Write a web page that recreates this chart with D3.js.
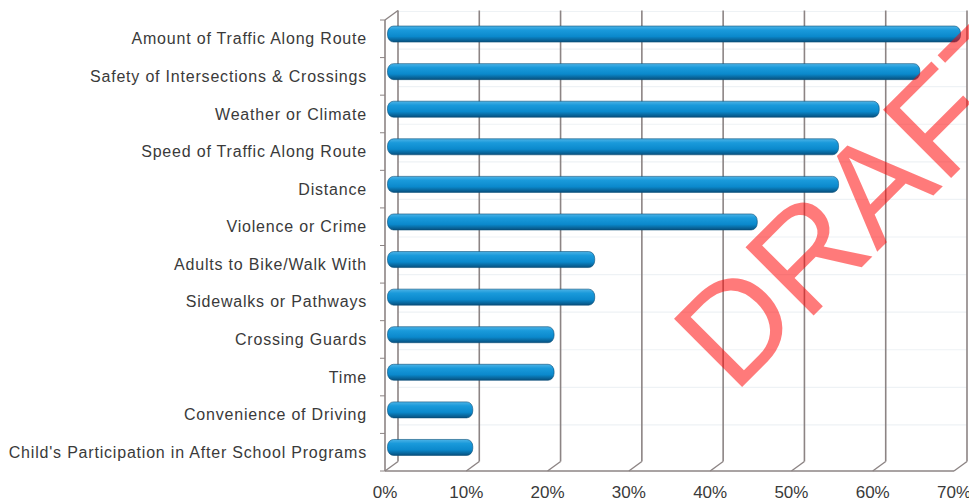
<!DOCTYPE html>
<html>
<head>
<meta charset="utf-8">
<script src="https://cdn.jsdelivr.net/npm/d3@7"></script>
<style>
  body { margin: 0; background: #fff; }
  text { font-family: "Liberation Sans", Arial, sans-serif; }
</style>
</head>
<body>
<svg id="chart" width="969" height="501"></svg>
<script>
// ---- data
const categories = [
  "Amount of Traffic Along Route",
  "Safety of Intersections & Crossings",
  "Weather or Climate",
  "Speed of Traffic Along Route",
  "Distance",
  "Violence or Crime",
  "Adults to Bike/Walk With",
  "Sidewalks or Pathways",
  "Crossing Guards",
  "Time",
  "Convenience of Driving",
  "Child's Participation in After School Programs"
];
const percents = [70, 65, 60, 55, 55, 45, 25, 25, 20, 20, 10, 10];
const tickValues = [0, 10, 20, 30, 40, 50, 60, 70];

const svg = d3.select("#chart");

// 3d depth offset of the back wall
const dx = 13, dy = -9.5;
const plotTop = 20, plotBottom = 471, plotLeft = 385, plotRight = 954;

const x = d3.scaleLinear().domain([0, 70]).range([plotLeft, plotRight]);
const y = d3.scaleBand().domain(categories).range([plotTop, plotBottom]);

const gridColor = "#8c8484";

// gradient for the cylinder bars
const defs = svg.append("defs");
const grad = defs.append("linearGradient")
  .attr("id", "barGrad").attr("x1", 0).attr("y1", 0).attr("x2", 0).attr("y2", 1);
grad.append("stop").attr("offset", "0%").attr("stop-color", "#4db3e6");
grad.append("stop").attr("offset", "25%").attr("stop-color", "#1a9adb");
grad.append("stop").attr("offset", "65%").attr("stop-color", "#0b89cc");
grad.append("stop").attr("offset", "100%").attr("stop-color", "#07507e");

//_________________ back wall faint lines
svg.append("g").selectAll("line")
  .data(categories)
  .join("line")
  .attr("x1", plotLeft + dx).attr("x2", plotRight + dx)
  .attr("y1", d => y(d) + dy + 1).attr("y2", d => y(d) + dy + 1)
  .attr("stroke", "#eef2f5").attr("stroke-width", 1.2);

//_________________ vertical grid (back wall + floor slants)
const grid = svg.append("g");
grid.selectAll(".vline")
  .data(tickValues)
  .join("line")
  .attr("x1", d => x(d) + dx).attr("x2", d => x(d) + dx)
  .attr("y1", plotTop + dy).attr("y2", plotBottom + dy)
  .attr("stroke", gridColor).attr("stroke-width", 1.6);
grid.selectAll(".slant")
  .data(tickValues)
  .join("line")
  .attr("x1", d => x(d)).attr("x2", d => x(d) + dx)
  .attr("y1", plotBottom).attr("y2", plotBottom + dy)
  .attr("stroke", gridColor).attr("stroke-width", 1.4);

// left wall front edge, top slant, floor front edge
grid.append("line")
  .attr("x1", plotLeft).attr("x2", plotLeft).attr("y1", plotTop).attr("y2", plotBottom)
  .attr("stroke", gridColor).attr("stroke-width", 1.6);
grid.append("line")
  .attr("x1", plotLeft).attr("x2", plotLeft + dx).attr("y1", plotTop).attr("y2", plotTop + dy)
  .attr("stroke", gridColor).attr("stroke-width", 1.4);
grid.append("line")
  .attr("x1", plotLeft).attr("x2", plotRight).attr("y1", plotBottom).attr("y2", plotBottom)
  .attr("stroke", gridColor).attr("stroke-width", 1.6);

// small ticks on the left axis
grid.selectAll(".ytick")
  .data(categories.concat([null]))
  .join("line")
  .attr("x1", plotLeft - 5).attr("x2", plotLeft)
  .attr("y1", (d, i) => plotTop + i * y.bandwidth())
  .attr("y2", (d, i) => plotTop + i * y.bandwidth())
  .attr("stroke", gridColor).attr("stroke-width", 1);

//_________________ bars
const barH = 16;
svg.append("g").selectAll("rect")
  .data(percents)
  .join("rect")
  .attr("x", x(0) + dx / 2 - 4)
  .attr("y", (d, i) => y(categories[i]) + y.bandwidth() / 2 + dy / 2 - barH / 2)
  .attr("width", d => x(d) - x(0) + 4)
  .attr("height", barH)
  .attr("rx", 6).attr("ry", 7)
  .attr("fill", "url(#barGrad)")
  .attr("stroke", "#0a4f78").attr("stroke-width", 0.6);

//_________________ labels
svg.append("g").selectAll("text")
  .data(categories)
  .join("text")
  .attr("x", 367)
  .attr("y", d => y(d) + y.bandwidth() / 2)
  .attr("dy", "0.35em")
  .attr("text-anchor", "end")
  .attr("font-size", 16)
  .attr("letter-spacing", 0.8)
  .attr("fill", "#3a3a3a")
  .text(d => d);

svg.append("g").selectAll("text")
  .data(tickValues)
  .join("text")
  .attr("x", d => x(d))
  .attr("y", 498)
  .attr("text-anchor", "middle")
  .attr("font-size", 17)
  .attr("fill", "#3a3a3a")
  .text(d => d + "%");

//_________________ watermark
svg.append("text")
  .attr("transform", "translate(734,395) rotate(-45)")
  .attr("font-size", 140)
  .attr("fill", "#ff0000")
  .attr("fill-opacity", 0.52)
  .text("DRAFT");
</script>
</body>
</html>
